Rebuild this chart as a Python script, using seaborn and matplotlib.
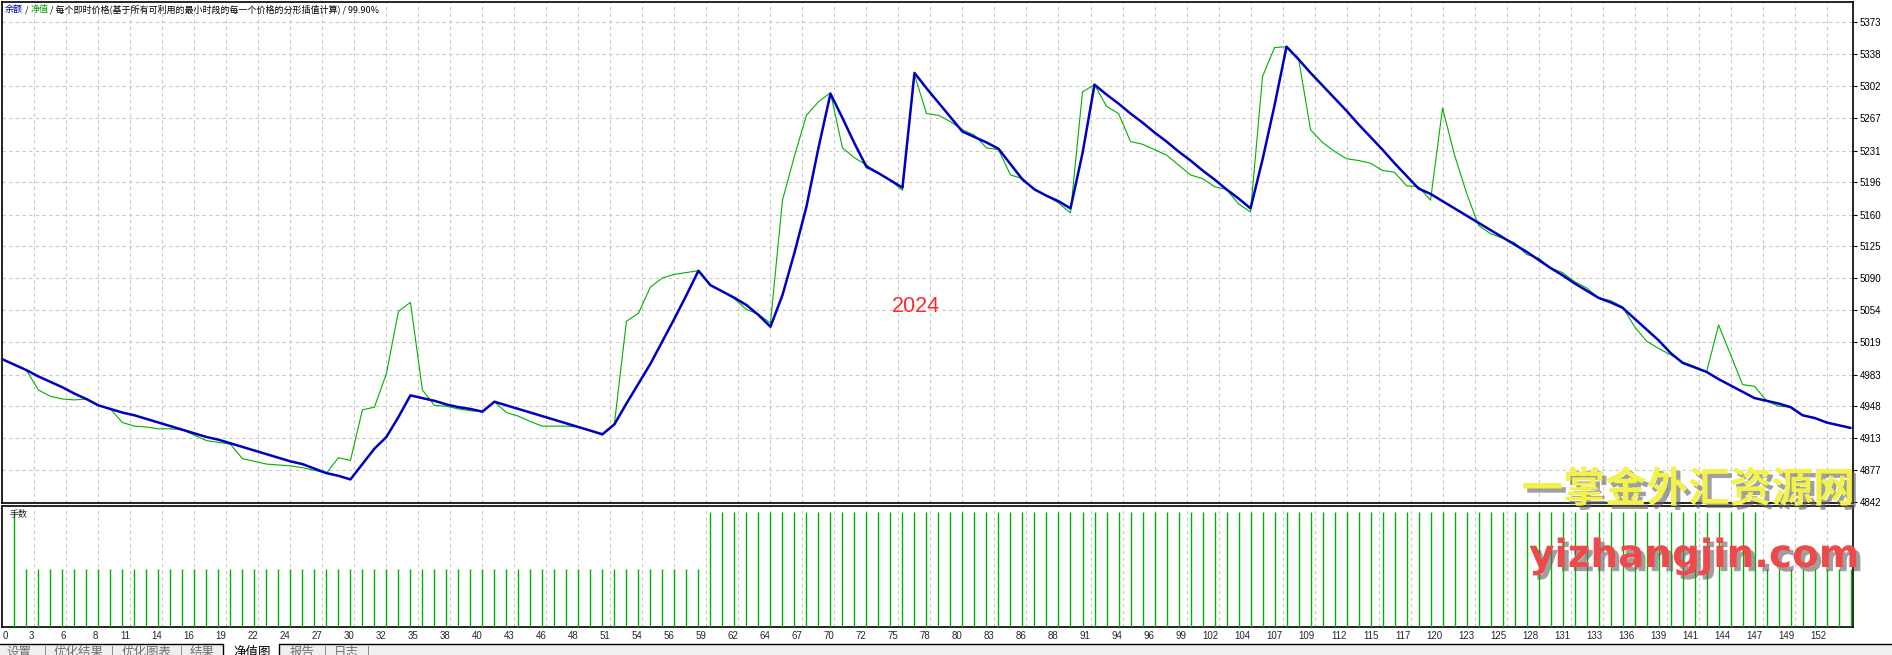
import numpy as np
import pandas as pd
import matplotlib
matplotlib.use("Agg")
import matplotlib.pyplot as plt
import matplotlib.patheffects as pe
from matplotlib.patches import Rectangle
from matplotlib.lines import Line2D
import seaborn as sns

# -------------------------------
# Data (trade number 0..154)
# -------------------------------
balance = [
    5000, 4994, 4988, 4981, 4975, 4969, 4962, 4956, 4949, 4945,
    4941, 4938, 4934, 4930, 4926, 4922, 4918, 4914, 4911, 4907,
    4903, 4899, 4895, 4891, 4887, 4884, 4879, 4874, 4871, 4867,
    4884, 4901, 4914, 4936, 4960, 4957, 4954, 4950, 4947, 4945,
    4942, 4953, 4949, 4945, 4941, 4937, 4933, 4929, 4925, 4921,
    4917, 4928, 4951, 4973, 4995, 5020, 5045, 5071, 5098, 5082,
    5075, 5068, 5060, 5049, 5036, 5071, 5118, 5169, 5234, 5294,
    5267, 5239, 5213, 5206, 5198, 5190, 5317, 5300, 5284, 5268,
    5252, 5246, 5240, 5233, 5216, 5199, 5188, 5181, 5175, 5167,
    5228, 5304, 5293, 5283, 5272, 5262, 5251, 5241, 5230, 5220,
    5209, 5199, 5188, 5178, 5167, 5221, 5281, 5346, 5332, 5317,
    5303, 5289, 5275, 5260, 5246, 5232, 5217, 5203, 5189, 5183,
    5175, 5167, 5159, 5151, 5143, 5135, 5127, 5119, 5110, 5101,
    5093, 5084, 5076, 5068, 5063, 5057, 5045, 5033, 5021, 5007,
    4996, 4991, 4986, 4978, 4971, 4964, 4957, 4954, 4951, 4947,
    4938, 4935, 4930, 4927, 4924,
]
equity = [
    5000, 4994, 4988, 4966, 4959, 4956, 4955, 4956, 4949, 4945,
    4930, 4926, 4925, 4923, 4923, 4922, 4916, 4910, 4908, 4906,
    4890, 4887, 4884, 4883, 4882, 4880, 4877, 4874, 4891, 4888,
    4944, 4947, 4984, 5053, 5063, 4966, 4949, 4948, 4945, 4943,
    4942, 4953, 4941, 4937, 4931, 4926, 4926, 4926, 4925, 4921,
    4916, 4929, 5042, 5051, 5080, 5090, 5094, 5096, 5098, 5082,
    5075, 5067, 5055, 5050, 5040, 5176, 5225, 5270, 5285, 5295,
    5234, 5223, 5215, 5206, 5198, 5187, 5315, 5272, 5270, 5263,
    5254, 5248, 5234, 5232, 5204, 5200, 5188, 5181, 5173, 5162,
    5296, 5304, 5280, 5272, 5241, 5238, 5232, 5226, 5215, 5204,
    5200, 5191, 5188, 5172, 5163, 5313, 5345, 5346, 5333, 5254,
    5240, 5230, 5222, 5220, 5217, 5209, 5207, 5192, 5191, 5176,
    5278, 5226, 5184, 5148, 5139, 5134, 5129, 5116, 5112, 5101,
    5096, 5086, 5079, 5068, 5065, 5058, 5036, 5020, 5012, 5005,
    4997, 4992, 4986, 5038, 5005, 4972, 4970, 4954, 4948, 4947,
    4938, 4935, 4930, 4927, 4924,
]
# lot size of trades 1..154 (first trade 0.02, then 57 x 0.01, 88 x 0.02, 8 x 0.01)
lots = [0.02] + [0.01] * 57 + [0.02] * 88 + [0.01] * 8

x_labels = [0, 3, 6, 8, 11, 14, 16, 19, 22, 24, 27, 30, 32, 35, 38, 40, 43, 46,
            48, 51, 54, 56, 59, 62, 64, 67, 70, 72, 75, 78, 80, 83, 86, 88, 91,
            94, 96, 99, 102, 104, 107, 109, 112, 115, 117, 120, 123, 125, 128,
            131, 133, 136, 139, 141, 144, 147, 149, 152]
y_labels = [4842, 4877, 4913, 4948, 4983, 5019, 5054, 5090, 5125, 5160,
            5196, 5231, 5267, 5302, 5338, 5373]

header_parts = [("余额", "#0000c0"), (" / ", "black"), ("净值", "#00a000"),
                (" / 每个即时价格(基于所有可利用的最小时段的每一个价格的分形插值计算) / 99.90%", "black")]
tabs = ["设置", "优化结果", "优化图表", "结果", "净值图", "报告", "日志"]

BLUE = "#0000c0"
GREEN = "#00b000"
GRID = "#c8c8c8"

sns.set_style("white")
plt.rcParams['font.family'] = ['Noto Sans CJK SC', 'DejaVu Sans']

W, H = 1892, 655
fig = plt.figure(figsize=(W / 100, H / 100), dpi=100)


def box(x0, y0, x1, y1):
    # pixel box (top-left origin) -> figure fraction rect
    return [x0 / W, 1 - y1 / H, (x1 - x0) / W, (y1 - y0) / H]


ax = fig.add_axes(box(2, 1.5, 1853, 503))
ax2 = fig.add_axes(box(2, 505.5, 1853, 627), sharex=ax)

df = pd.DataFrame({"trade": np.arange(len(balance)), "balance": balance, "equity": equity})

# -------------------------------
# Balance / equity
# -------------------------------
sns.lineplot(data=df, x="trade", y="equity", ax=ax, color=GREEN, linewidth=0.8, zorder=3)
sns.lineplot(data=df, x="trade", y="balance", ax=ax, color=BLUE, linewidth=1.8, zorder=4)
ax.set_xlim(-0.03, 154.2)
ax.set_ylim(4840.9, 5396)
ax.set_xlabel("")
ax.set_ylabel("")
ax.set_yticks(y_labels)
ax.set_yticklabels([str(v) for v in y_labels], family="Liberation Sans", fontsize=7)
ax.yaxis.tick_right()
ax.tick_params(axis="y", direction="out", length=3, width=0.8, pad=2, colors="black")
ax.tick_params(axis="x", labelbottom=False, length=0)
ax.grid(True, color=GRID, linestyle=(0, (3, 3)), linewidth=0.8)

# -------------------------------
# Lots
# -------------------------------
trades = np.arange(1, len(lots) + 1)
ax2.vlines(trades, 0, lots, color=GREEN, linewidth=1.0, zorder=3)
ax2.set_ylim(0, 0.0211)
ax2.set_yticks([])
ticks = np.arange(len(x_labels)) * 152 / 57
ax2.set_xticks(ticks)
ax2.set_xticklabels([str(v) for v in x_labels], family="Liberation Sans", fontsize=7)
for i, t in enumerate(ax2.get_xticklabels()):
    t.set_ha("left" if i == 0 else "right")
ax2.tick_params(axis="x", direction="out", length=2, width=0.8, pad=1)
ax2.grid(True, axis="x", color=GRID, linestyle=(0, (3, 3)), linewidth=0.8)
ax2.text(0.004, 0.96, "手数", transform=ax2.transAxes, fontsize=6.5, va="top", ha="left")

for a in (ax, ax2):
    for s in a.spines.values():
        s.set_color("black")
        s.set_linewidth(1.2)

# header line, coloured pieces chained one after another
prev = fig.text(5 / W, 1 - 14 / H, header_parts[0][0], color=header_parts[0][1],
                fontsize=6.5, va="bottom", ha="left")
for txt, col in header_parts[1:]:
    prev = ax.annotate(txt, xy=(1, 0), xycoords=prev, color=col, fontsize=6.5,
                       va="bottom", ha="left", annotation_clip=False)

fig.text(916 / W, 1 - 307 / H, "2024", color="#ff2a2a", fontsize=15.5,
         family="Liberation Sans", ha="center", va="center")

# watermarks
fig.text(1688 / W, 1 - 490 / H, "一掌金外汇资源网", color="#f2f24a", fontsize=30,
         fontweight="bold", ha="center", va="center",
         path_effects=[pe.withSimplePatchShadow(offset=(3, -3), shadow_rgbFace="#606060", alpha=0.6)])
fig.text(1694 / W, 1 - 556 / H, "yizhangjin.com", color="#ee4a4a", fontsize=28,
         fontweight="bold", family="DejaVu Sans", ha="center", va="center",
         path_effects=[pe.withSimplePatchShadow(offset=(3, -3), shadow_rgbFace="#606060", alpha=0.6)])

# -------------------------------
# Tab strip at the bottom
# -------------------------------
fig.patches.append(Rectangle((0, 0), 1, 11 / H, transform=fig.transFigure,
                             facecolor="#f0f0f0", edgecolor="none", zorder=0))
fig.patches.append(Rectangle((223 / W, 0), 56 / W, 11 / H, transform=fig.transFigure,
                             facecolor="white", edgecolor="none", zorder=1))
fig.lines.append(Line2D([0, 223 / W], [1 - 644 / H] * 2, transform=fig.transFigure, color="black", lw=1))
fig.lines.append(Line2D([279 / W, 1], [1 - 644 / H] * 2, transform=fig.transFigure, color="black", lw=1))
fig.lines.append(Line2D([223 / W] * 2, [0, 1 - 644 / H], transform=fig.transFigure, color="black", lw=1))
fig.lines.append(Line2D([279 / W] * 2, [0, 1 - 644 / H], transform=fig.transFigure, color="black", lw=1))
tab_x = [19, 78, 146, 202, 252, 302, 346]
sep_x = [45, 112, 181, 325, 368]
for tx, name in zip(tab_x, tabs):
    fig.text(tx / W, 1 - 646 / H, name, fontsize=9, ha="center", va="top",
             color="black" if name == "净值图" else "#707070")
for sx in sep_x:
    fig.text(sx / W, 1 - 646 / H, "|", fontsize=9, ha="center", va="top", color="#707070")

fig.savefig("out.png", dpi=100, facecolor="white")
